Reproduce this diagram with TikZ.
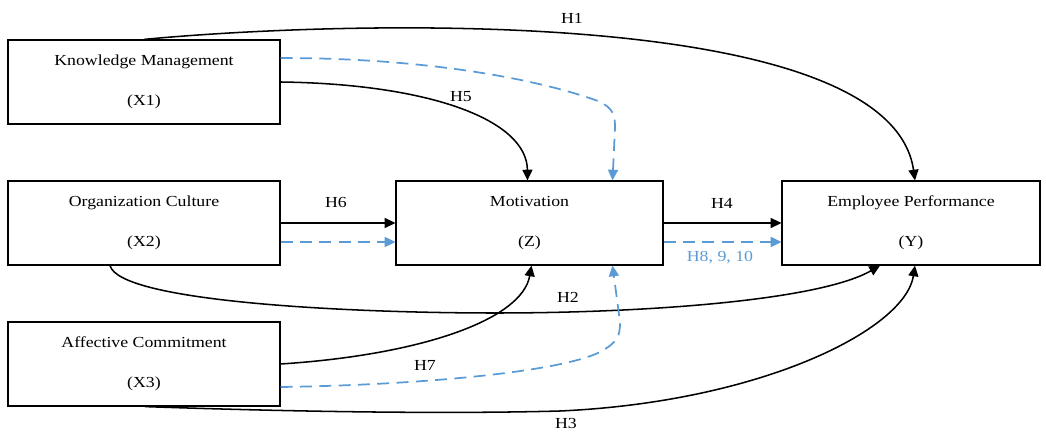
\documentclass[tikz,border=0pt]{standalone}
\usepackage{fontspec}
\setmainfont[FakeStretch=1.16]{Liberation Serif}
\usetikzlibrary{arrows.meta,calc,shadows}
\definecolor{myblue}{RGB}{91,155,213}
\begin{document}
\begin{tikzpicture}[x=0.75pt,y=-0.75pt,
  box/.style={draw=black,line width=0.9pt,fill=white,rectangle,align=center,
    minimum height=63pt,font=\fontsize{11.5}{13}\selectfont,
    drop shadow={shadow xshift=0.6pt,shadow yshift=-0.9pt,fill=gray!55,opacity=1}},
  conn/.style={line width=1.15pt,-{Triangle[length=8pt,width=7.5pt]}},
  bconn/.style={line width=1.3pt,draw=myblue,dash pattern=on 9pt off 5.5pt,
    -{Triangle[length=8pt,width=7.5pt,fill=myblue]}},
  lab/.style={font=\fontsize{11.5}{13}\selectfont,inner sep=1pt}]
\useasboundingbox (0,0) rectangle (1046,434);
\node[box,minimum width=204pt] (X1) at (144,82) {Knowledge Management\\[17pt](X1)};
\node[box,minimum width=204pt] (X2) at (144,223) {Organization Culture\\[17pt](X2)};
\node[box,minimum width=204pt] (X3) at (144,364) {Affective Commitment\\[17pt](X3)};
\node[box,minimum width=200.25pt] (Z) at (529.5,223) {Motivation\\[17pt](Z)};
\node[box,minimum width=193.5pt] (Y) at (911,223) {Employee Performance\\[17pt](Y)};
% H1
\draw[conn] (X1.north) .. controls (350,20) and (890,5) .. ($(Y.north)+(4,0)$);
% H5
\draw[conn] (X1.east) .. controls (430,84) and (527,120) .. ($(Z.north)+(-2,0)$);
% blue from X1
\draw[bconn] ($(X1.east)+(0,-24)$) .. controls (430,58) and (540,80) .. (598,101)
  .. controls (614,108) and (615,116) .. (615,128) -- ($(Z.north)+(83,0)$);
% H6
\draw[conn] (X2.east) -- (Z.west);
\draw[bconn] ($(X2.east)+(0,19)$) -- ($(Z.west)+(0,19)$);
% H4
\draw[conn] (Z.east) -- (Y.west);
\draw[bconn] ($(Z.east)+(0,19)$) -- ($(Y.west)+(0,19)$);
% H2
\draw[conn] ($(X2.south)+(-34,0)$) .. controls (120,302) and (350,313) .. (495,313)
  .. controls (650,313) and (820,300) .. ($(Y.south)+(-31,0)$);
% H7 black
\draw[conn] (X3.east) .. controls (420,355) and (522,320) .. ($(Z.south)+(2,0)$);
% H7 blue
\draw[bconn] ($(X3.east)+(0,23)$) .. controls (420,385) and (560,372) .. (600,352)
  .. controls (618,342) and (620,336) .. (620,322) -- ($(Z.south)+(83,0)$);
% H3
\draw[conn] ($(X3.south)+(1,0)$) .. controls (300,412) and (450,414) .. (560,411)
  .. controls (760,402) and (905,330) .. ($(Y.south)+(4,0)$);
% labels
\node[lab] (lH1) at (572,18) {H1};
\node[lab] (lH5) at (461,97) {H5};
\node[lab] (lH6) at (336,203) {H6};
\node[lab] (lH4) at (722,203) {H4};
\node[lab,text=myblue] (lH8) at (720,258) {H8, 9, 10};
\node[lab] (lH2) at (568,297) {H2};
\node[lab] (lH7) at (425,365) {H7};
\node[lab] (lH3) at (566,423) {H3};
\end{tikzpicture}
\end{document}
